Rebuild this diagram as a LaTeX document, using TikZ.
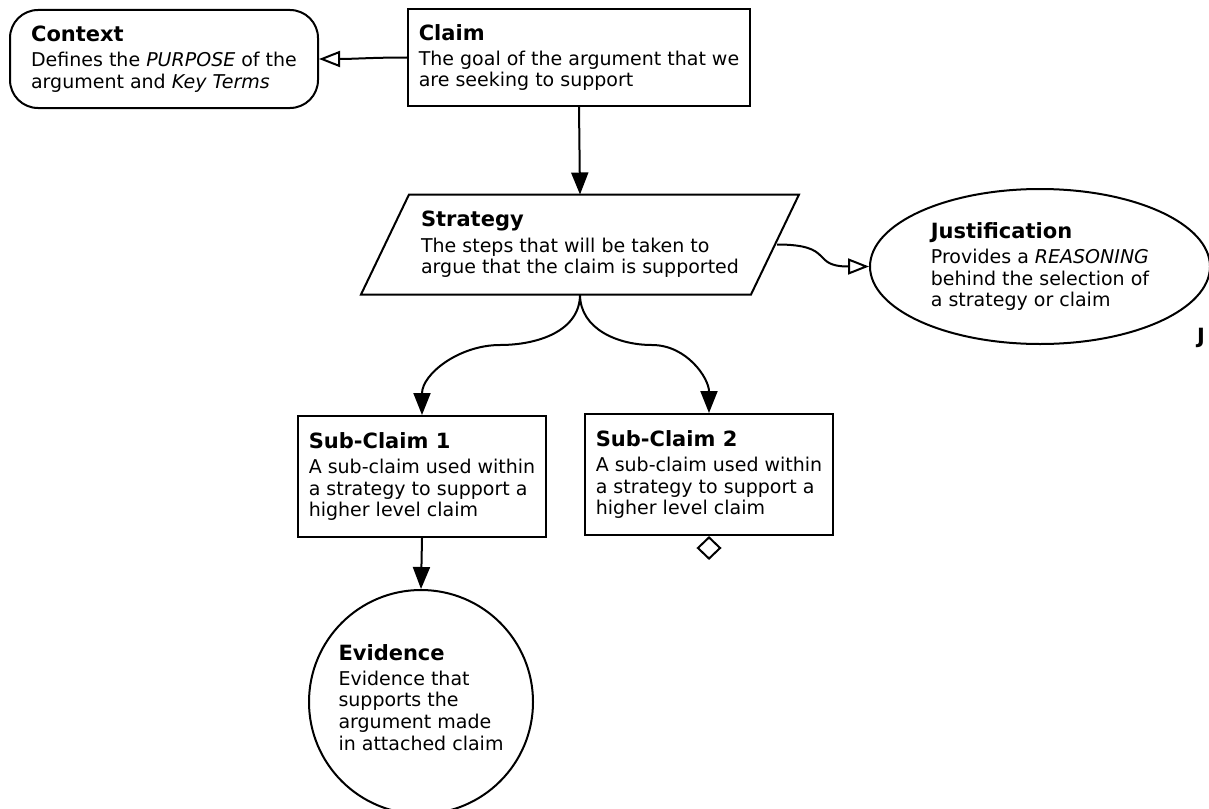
\documentclass[tikz,border=0pt]{standalone}
\usepackage{fontspec}
\setmainfont{DejaVu Sans}
\usetikzlibrary{arrows.meta,shapes.geometric}
\newcommand{\gsnhead}[1]{{\fontsize{21}{24}\selectfont\bfseries #1}}
\tikzset{
	gsn/.style={line width=2pt, align=left, inner sep=0pt,
			font=\fontsize{19}{21.6}\selectfont},
	goal/.style={gsn, draw, rectangle},
	contextbox/.style={gsn, draw, rectangle, rounded corners=28pt},
	justbox/.style={gsn, draw, ellipse, minimum width=340, minimum height=155},
	evidencebox/.style={gsn, draw, circle, minimum size=224},
	undeveloped/.style={draw, diamond, line width=2pt, inner sep=0pt,
			minimum width=23, minimum height=22},
	outline/.style={line width=2pt, line join=miter},
	solved/.style={-{Triangle[length=22pt,width=17pt]}, line width=2pt},
	incontext/.style={-{Triangle[open,length=21pt,width=16pt]}, line width=2pt}
}

\begin{document}
\begin{tikzpicture}[x=1pt, y=-1pt]
        \useasboundingbox (0, 0) rectangle (1209, 808);
        \node[contextbox, minimum width=308, minimum height=98] (context) at (164, 59)
            {\gsnhead{Context}\\[3.5pt]Defines the \textit{PURPOSE} of the\\argument and \textit{Key Terms}};
        \node[goal, minimum width=342, minimum height=97] (claim) at (579, 57.5)
            {\gsnhead{Claim}\\[3.5pt]The goal of the argument that we\\are seeking to support};
        \node[gsn, minimum width=392, minimum height=98] (strategy) at (580, 244.5)
            {\gsnhead{Strategy}\\[3.5pt]The steps that will be taken to\\argue that the claim is supported};
        \draw[outline] ([xshift=26]strategy.north west) -- ([xshift=22]strategy.north east)
            -- ([xshift=-26]strategy.south east) -- ([xshift=-22]strategy.south west) -- cycle;
        \node[justbox] (justification) at (1040, 266.5)
            {\gsnhead{Justification}\\[3.5pt]Provides a \textit{REASONING}\\behind the selection of\\a strategy or claim};
        \node[goal, minimum width=248, minimum height=121] (sub_1) at (422, 476.5)
            {\gsnhead{Sub-Claim 1}\\[3.5pt]A sub-claim used within\\a strategy to support a\\higher level claim};
        \node[goal, minimum width=248, minimum height=121] (sub_2) at (709, 474.5)
            {\gsnhead{Sub-Claim 2}\\[3.5pt]A sub-claim used within\\a strategy to support a\\higher level claim};
        \node[undeveloped, anchor=north] (sub_2_undev) at (sub_2.south) {};
        \node[evidencebox] (evidence) at (421, 702)
            {\gsnhead{Evidence}\\[3.5pt]Evidence that\\supports the\\argument made\\in attached claim\\[-12pt]};
        \node[anchor=base west, inner sep=0pt] (cut_label) at (1197, 343) {\gsnhead{J}};
        \coordinate (fork_1) at (500, 345);
        \coordinate (fork_2) at (652, 345);
        \draw[incontext] (claim.west) to[out=180, in=0] (context.east);
        \draw[solved] (claim.south) -- (strategy.north);
        \draw[incontext] (strategy.east) to[out=0, in=180, looseness=1.6] (justification.west);
        \draw[solved] (strategy.south) to[out=-90, in=0] (fork_1) to[out=180, in=90] (sub_1.north);
        \draw[solved] (strategy.south) to[out=-90, in=180] (fork_2) to[out=0, in=90] (sub_2.north);
        \draw[solved] (sub_1.south) -- (evidence.north);
\end{tikzpicture}
\end{document}
